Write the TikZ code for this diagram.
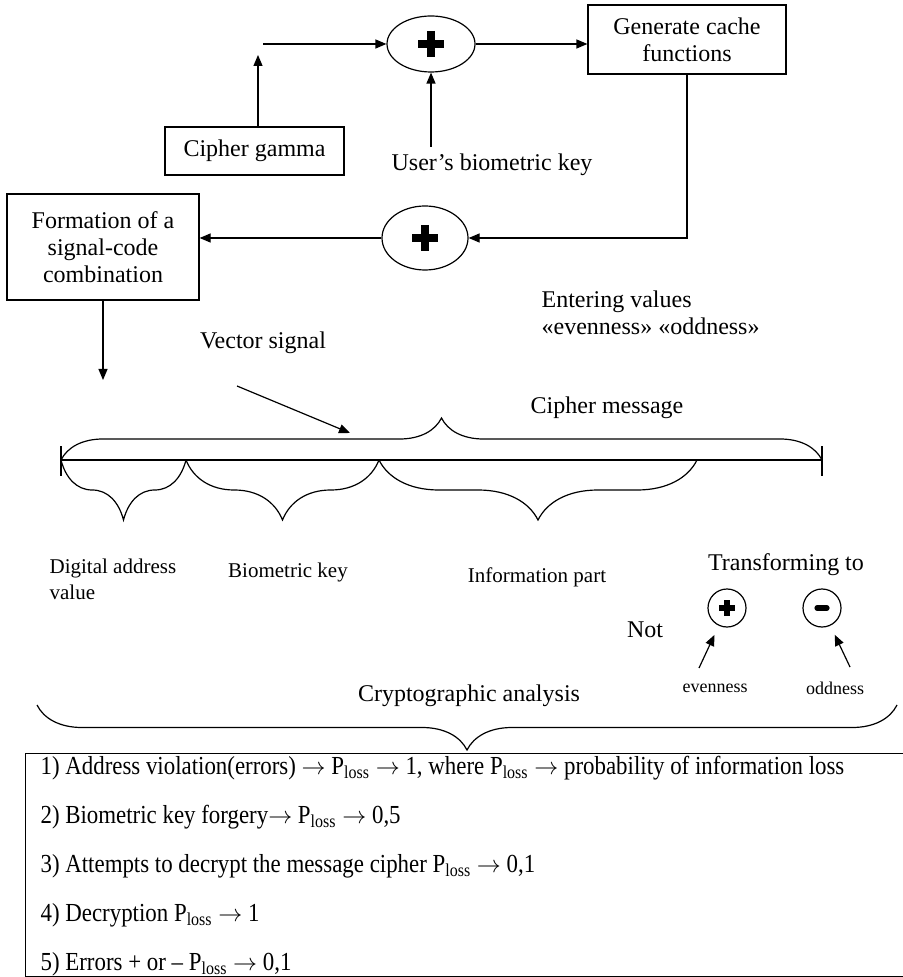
\documentclass[tikz,border=0pt]{standalone}
\usepackage{fontspec}
\setmainfont{Liberation Serif}
\newfontfamily\condfont{Liberation Serif}[FakeStretch=0.88]
\usetikzlibrary{arrows.meta,positioning,calc,shapes.geometric,decorations.pathreplacing}
\newcommand{\Ploss}{P\textsubscript{loss}}
\newcommand{\plussign}[3]{\draw[line width=#3] ($(#1)+(-#2,0)$) -- ($(#1)+(#2,0)$) ($(#1)+(0,-#2)$) -- ($(#1)+(0,#2)$);}

\begin{document}
\begin{tikzpicture}[
  x=0.5pt, y=-0.5pt,
  font=\fontsize{12}{13.5}\selectfont,
  line width=0.6pt,
  box/.style={draw, align=center, inner sep=2pt},
  sum/.style={draw, ellipse, inner sep=0pt},
  sign/.style={draw, circle, inner sep=0pt, minimum size=19pt},
  arr/.style={-{Triangle[length=5.5pt, width=4.5pt]}},
  small/.style={font=\fontsize{10.5}{13}\selectfont},
  tiny/.style={font=\fontsize{9}{11}\selectfont},
  listtxt/.style={font=\condfont\fontsize{13}{15}\selectfont, anchor=west, inner sep=0pt},
  brcup/.style={decorate, decoration={brace, amplitude=#1}},
  brcdown/.style={decorate, decoration={brace, mirror, amplitude=#1}}]
\useasboundingbox (0,0) rectangle (902,977);
% upper chain
\node[box, minimum width=99pt, minimum height=34.5pt] (gen) at (687,39.5) {Generate cache\\functions};
\node[sum, minimum width=44pt, minimum height=28pt] (s1) at (431,44) {};
\node[box, minimum width=89.5pt, minimum height=24pt] (gamma) at (254.5,151) {Cipher gamma};
\node (bio) at (492,165) {User’s biometric key};
\node[sum, minimum width=43pt, minimum height=32pt] (s2) at (425,238) {};
\node[box, minimum width=96pt, minimum height=53pt] (form) at (103,247) {Formation of a\\signal-code\\combination};
\node[anchor=north west, align=left, inner sep=0pt] (enter) at (541,290) {Entering values\\«evenness»\ «oddness»};
\plussign{s1}{13}{3.6pt}
\plussign{s2}{13}{3.6pt}
\coordinate (gup) at (258,55);
\coordinate (gin) at (263,44);
\draw[arr] (gamma.north -| gup) -- (gup);
\draw[arr] (gin) -- (s1.west);
\draw[arr] (bio.north -| s1) -- (s1.south);
\draw[arr] (s1.east) -- (s1.east -| gen.west);
\draw[arr] (gen.south) |- (s2.east);
\draw[arr] (s2.west) -- (s2.west -| form.east);
\coordinate (fdown) at (103,380);
\draw[arr] (form.south) -- (fdown);
% message line
\node (vec) at (263,343) {Vector signal};
\coordinate (vs) at (237,386);
\coordinate (vt) at (350,433);
\draw[arr] (vs) -- (vt);
\node (cmsg) at (607,408) {Cipher message};
\coordinate (mL) at (61,460);
\coordinate (mR) at (822,460);
\coordinate (c1) at (186,460);
\coordinate (c2) at (379,460);
\coordinate (c3) at (697,460);
\draw (mL) -- (mR);
\draw ($(mL)+(0,-14)$) -- ($(mL)+(0,16)$);
\draw ($(mR)+(0,-14)$) -- ($(mR)+(0,16)$);
\draw[brcup=21pt] (mL) -- (mR);
\foreach \a/\b in {mL/c1, c1/c2, c2/c3}
  \draw[brcdown=30pt] (\a) -- (\b);
\node[small, align=left, anchor=north west, inner sep=0pt] (addr) at (49,558) {Digital address\\value};
\node[small] (bkey) at (288,572) {Biometric key};
\node[small] (info) at (537,577) {Information part};
% transforming
\node (trans) at (786,565) {Transforming to};
\node[sign] (ev) at (727,608) {};
\node[sign] (od) at (822,608) {};
\plussign{ev}{8}{2.6pt}
\draw[line width=2.6pt, line cap=round] ($(od)+(-5,0)$) -- ($(od)+(5,0)$);
\node (not) at (645,630) {Not};
\node[tiny] (evl) at (715,688) {evenness};
\node[tiny] (odl) at (835,688) {oddness};
\coordinate (ea) at (699,668);
\coordinate (oa) at (850,667);
\draw[arr, shorten >=5pt] (ea) -- (ev);
\draw[arr, shorten >=5pt] (oa) -- (od);
% analysis
\node (crypt) at (469,696) {Cryptographic analysis};
\coordinate (bL) at (37,705);
\coordinate (bR) at (897,705);
\draw[brcdown=22.5pt] (bL) -- (bR);
\node[draw, anchor=north west, minimum width=442.5pt, minimum height=111.5pt] (crit) at (25,753) {};
\foreach \t [count=\i] in {{1) Address violation(errors) $\rightarrow$ \Ploss\ $\rightarrow$ 1, where \Ploss\ $\rightarrow$\ probability of information loss},
  {2) Biometric key forgery$\rightarrow$ \Ploss\ $\rightarrow$\ 0,5},
  {3) Attempts to decrypt the message cipher \Ploss\ $\rightarrow$ 0,1},
  {4) Decryption \Ploss\ $\rightarrow$ 1},
  {5) Errors + or – \Ploss\ $\rightarrow$ 0,1}}
  \node[listtxt] (l\i) at (40,{768+49*(\i-1)}) {\t};
\end{tikzpicture}
\end{document}
